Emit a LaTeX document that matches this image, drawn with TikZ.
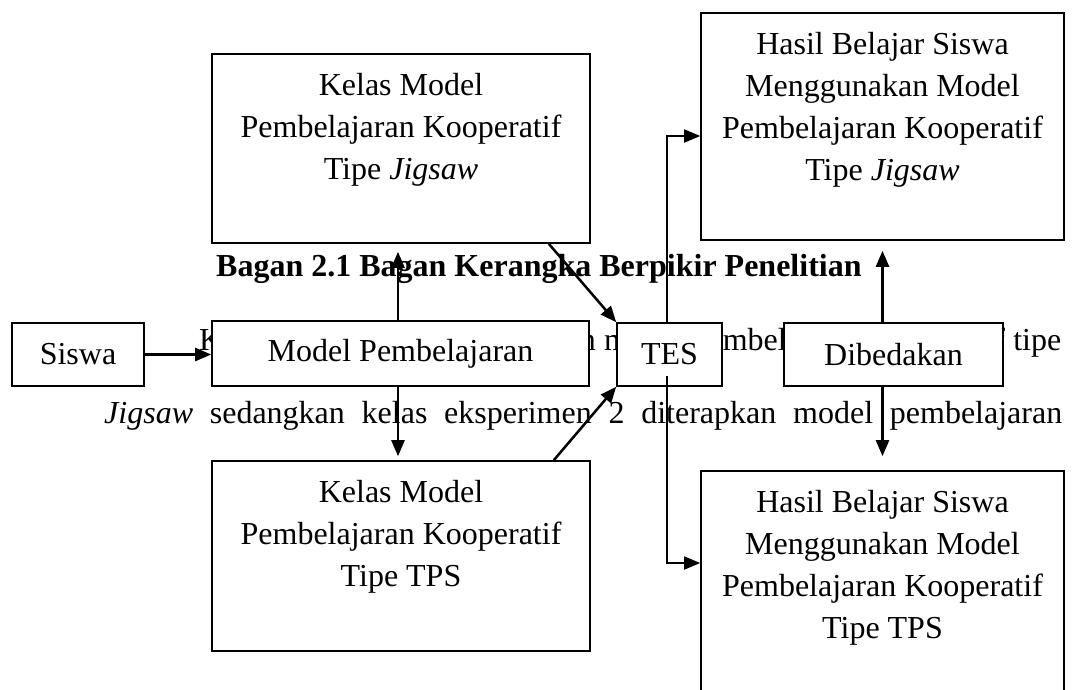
\documentclass[tikz,border=0pt]{standalone}
\usepackage{fontspec}
\setmainfont{Liberation Serif}
\usetikzlibrary{arrows.meta,calc}
\newcommand{\boxtext}[3]{\parbox[c][#2][t]{#1}{\centering\rule{0pt}{41pt}#3}}
\begin{document}
\begin{tikzpicture}[x=1pt,y=-1pt,
  txt/.style={inner sep=0pt, anchor=base west, font=\fontsize{32}{42}\selectfont},
  box/.style={draw, line width=1.6pt, fill=white, inner sep=0pt, font=\fontsize{32}{42}\selectfont},
  arr/.style={line width=2.5pt, -{Triangle[length=16pt,width=13pt]}},
  conn/.style={line width=1.8pt}]
\useasboundingbox (0,0) rectangle (1074,689);
\clip (0,0) rectangle (1074,689);
\fill[white] (0,0) rectangle (1074,689);
% background document text
\node[txt, font=\bfseries\fontsize{32}{42}\selectfont] (title) at (216,276) {Bagan 2.1 Bagan Kerangka Berpikir Penelitian};
\node[txt] (para1) at (199,350) {\makebox[862pt][s]{Kelas eksperimen 1 diterapkan model pembelajaran kooperatif tipe}};
\node[txt] (para2) at (104,423) {\makebox[958pt][s]{\textit{Jigsaw} sedangkan kelas eksperimen 2 diterapkan model pembelajaran}};
% boxes
\node[box, minimum width=132pt, minimum height=63pt] (siswa) at (78,354.5) {Siswa};
\node[box, minimum width=377pt, minimum height=65pt] (model) at (400.5,353.5) {Model Pembelajaran};
\node[box, minimum width=105pt, minimum height=63pt] (tes) at (669.5,354.5) {TES};
\node[box, minimum width=219pt, minimum height=63pt] (dib) at (893.5,354.5) {Dibedakan};
\node[box] (kelasJ) at (401,148.5) {\boxtext{378pt}{189pt}{Kelas Model\\Pembelajaran Kooperatif\\Tipe \textit{Jigsaw}}};
\node[box] (kelasT) at (401,556) {\boxtext{378pt}{190pt}{Kelas Model\\Pembelajaran Kooperatif\\Tipe TPS}};
\node[box] (hasilJ) at (882.5,126.5) {\boxtext{363pt}{227pt}{Hasil Belajar Siswa\\Menggunakan Model\\Pembelajaran Kooperatif\\Tipe \textit{Jigsaw}}};
\node[box] (hasilT) at (882.5,595.5) {\boxtext{363pt}{249pt}{Hasil Belajar Siswa\\Menggunakan Model\\Pembelajaran Kooperatif\\Tipe TPS}};
% connectors
\draw[arr] (siswa.east) -- (siswa.east -| model.west);
\draw[arr, shorten >=8pt] ([xshift=-2.5pt]model.north) -- ([xshift=-2.5pt]model.north |- kelasJ.south);
\draw[arr, shorten >=4pt] ([xshift=-2.5pt]model.south) -- ([xshift=-2.5pt]model.south |- kelasT.north);
\draw[arr] ([xshift=-42pt]kelasJ.south east) -- (tes.north west);
\draw[arr] ([xshift=-37pt]kelasT.north east) -- (tes.south west);
\coordinate (tb) at ($(tes.south)+(-2.5,-11)$);
\draw[arr, conn] ([xshift=-2.5pt]tes.north) |- ([yshift=-9.5pt]hasilJ.west);
\draw[arr, conn] (tb) |- ([yshift=32.5pt]hasilT.west);
\draw[arr, shorten >=10pt] (hasilJ.south |- dib.north) -- (hasilJ.south);
\draw[arr, shorten >=14pt] (hasilT.north |- dib.south) -- (hasilT.north);
\end{tikzpicture}
\end{document}
